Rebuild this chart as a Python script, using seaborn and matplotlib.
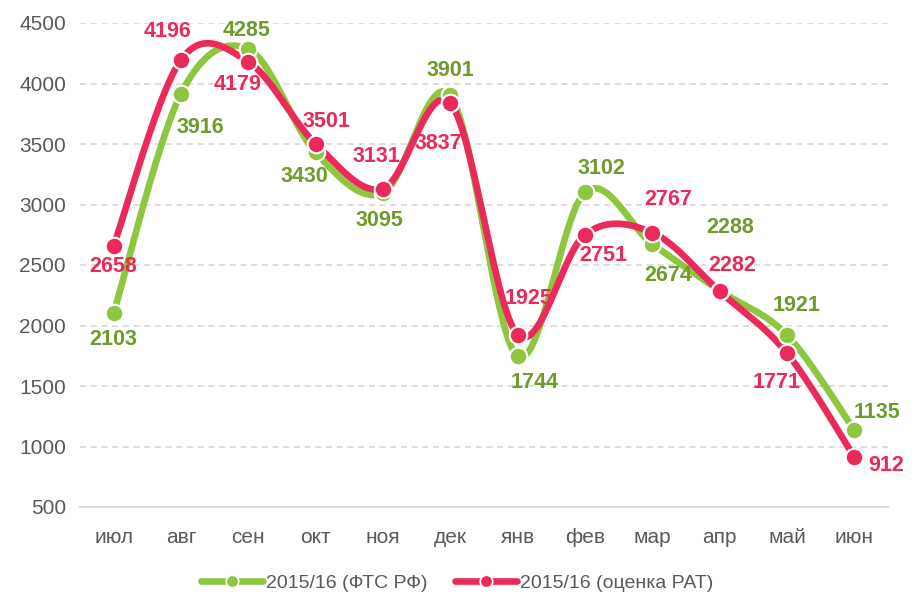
import numpy as np
import pandas as pd
import seaborn as sns
import matplotlib.pyplot as plt
from matplotlib.lines import Line2D

sns.set_style('white')
plt.rcParams['font.family'] = ['Liberation Sans Narrow', 'Liberation Sans', 'DejaVu Sans']

months = ['июл', 'авг', 'сен', 'окт', 'ноя', 'дек', 'янв', 'фев', 'мар', 'апр', 'май', 'июн']
fts = [2103, 3916, 4285, 3430, 3095, 3901, 1744, 3102, 2674, 2288, 1921, 1135]
rat = [2658, 4196, 4179, 3501, 3131, 3837, 1925, 2751, 2767, 2282, 1771, 912]
series_names = ['2015/16 (ФТС РФ)', '2015/16 (оценка РАТ)']

green = '#8dc63f'
green_txt = '#6f9a2c'
red = '#eb2a5a'
grey = '#595959'

# label offsets in pixels (dx, dy; dy positive = down)
fts_off = [(0, 26), (19, 34), (-2, -19), (-11, 24), (-4, 27), (0, -25),
           (17, 26), (16, -24), (16, 32), (10, -63), (10, -30), (23, -18)]
rat_off = [(-1, 21), (-13, -28), (-11, 23), (11, -22), (-7, -32), (-12, 40),
           (11, -36), (18, 21), (16, -33), (13, -26), (-10, 29), (32, 8)]


def smooth(ys, n=30):
    # excel-like smoothed line: bezier with catmull-rom control points
    xs = np.arange(len(ys), dtype=float)
    ys = np.asarray(ys, dtype=float)
    pts = np.column_stack([xs, ys])
    out = []
    t = np.linspace(0, 1, n)[:, None]
    for i in range(len(pts) - 1):
        p0 = pts[max(i - 1, 0)]
        p1 = pts[i]
        p2 = pts[i + 1]
        p3 = pts[min(i + 2, len(pts) - 1)]
        c1 = p1 + (p2 - p0) / 6
        c2 = p2 - (p3 - p1) / 6
        seg = ((1 - t) ** 3) * p1 + 3 * ((1 - t) ** 2) * t * c1 + 3 * (1 - t) * t ** 2 * c2 + t ** 3 * p2
        out.append(seg if i == 0 else seg[1:])
    out = np.vstack(out)
    return pd.DataFrame({'x': out[:, 0], 'y': out[:, 1]})


fig = plt.figure(figsize=(9.14, 6.01), dpi=100)
ax = fig.add_axes([80 / 914, 1 - 507 / 601, (888 - 80) / 914, (507 - 23) / 601])

for vals, col in [(fts, green), (rat, red)]:
    sm = smooth(vals)
    sns.lineplot(data=sm, x='x', y='y', sort=False, estimator=None, color=col,
                 linewidth=4.8, ax=ax, solid_capstyle='round', zorder=3)
    df = pd.DataFrame({'x': np.arange(len(vals)), 'y': vals})
    sns.scatterplot(data=df, x='x', y='y', color=col, s=160, edgecolor='white',
                    linewidth=1.5, ax=ax, zorder=4)

for vals, offs, col in [(fts, fts_off, green_txt), (rat, rat_off, red)]:
    for i, v in enumerate(vals):
        dx, dy = offs[i]
        ax.annotate(str(v), (i, v), xytext=(dx * 0.72, -dy * 0.72), textcoords='offset points',
                    ha='center', va='center', fontsize=15.5, fontweight='bold', color=col, zorder=5)

ax.set_xlim(-0.5, len(months) - 0.5)
ax.set_ylim(500, 4500)
ax.set_xticks(range(len(months)))
ax.set_xticklabels(months)
ax.set_yticks(range(500, 4501, 500))
ax.tick_params(axis='both', length=0, labelsize=15, labelcolor=grey)
ax.tick_params(axis='x', pad=15)
ax.tick_params(axis='y', pad=10)
for y in range(1000, 4501, 500):
    ax.axhline(y, color='#d4d4d4', linestyle=(0, (4, 3)), linewidth=1.1, zorder=1)
for s in ['left', 'right', 'top']:
    ax.spines[s].set_visible(False)
ax.spines['bottom'].set_color('#d4d4d4')
ax.spines['bottom'].set_linewidth(1.3)
ax.set_xlabel('')
ax.set_ylabel('')

handles = [Line2D([], [], color=c, linewidth=4.8, marker='o', markersize=9,
                  markeredgecolor='white', markeredgewidth=1.2) for c in [green, red]]
fig.legend(handles, series_names, loc='center', bbox_to_anchor=(0.5, 1 - 583 / 601), ncol=2,
           frameon=False, fontsize=14, labelcolor=grey, handlelength=3.2, handletextpad=0.15,
           columnspacing=1.4)

fig.savefig('out.png', dpi=100)
